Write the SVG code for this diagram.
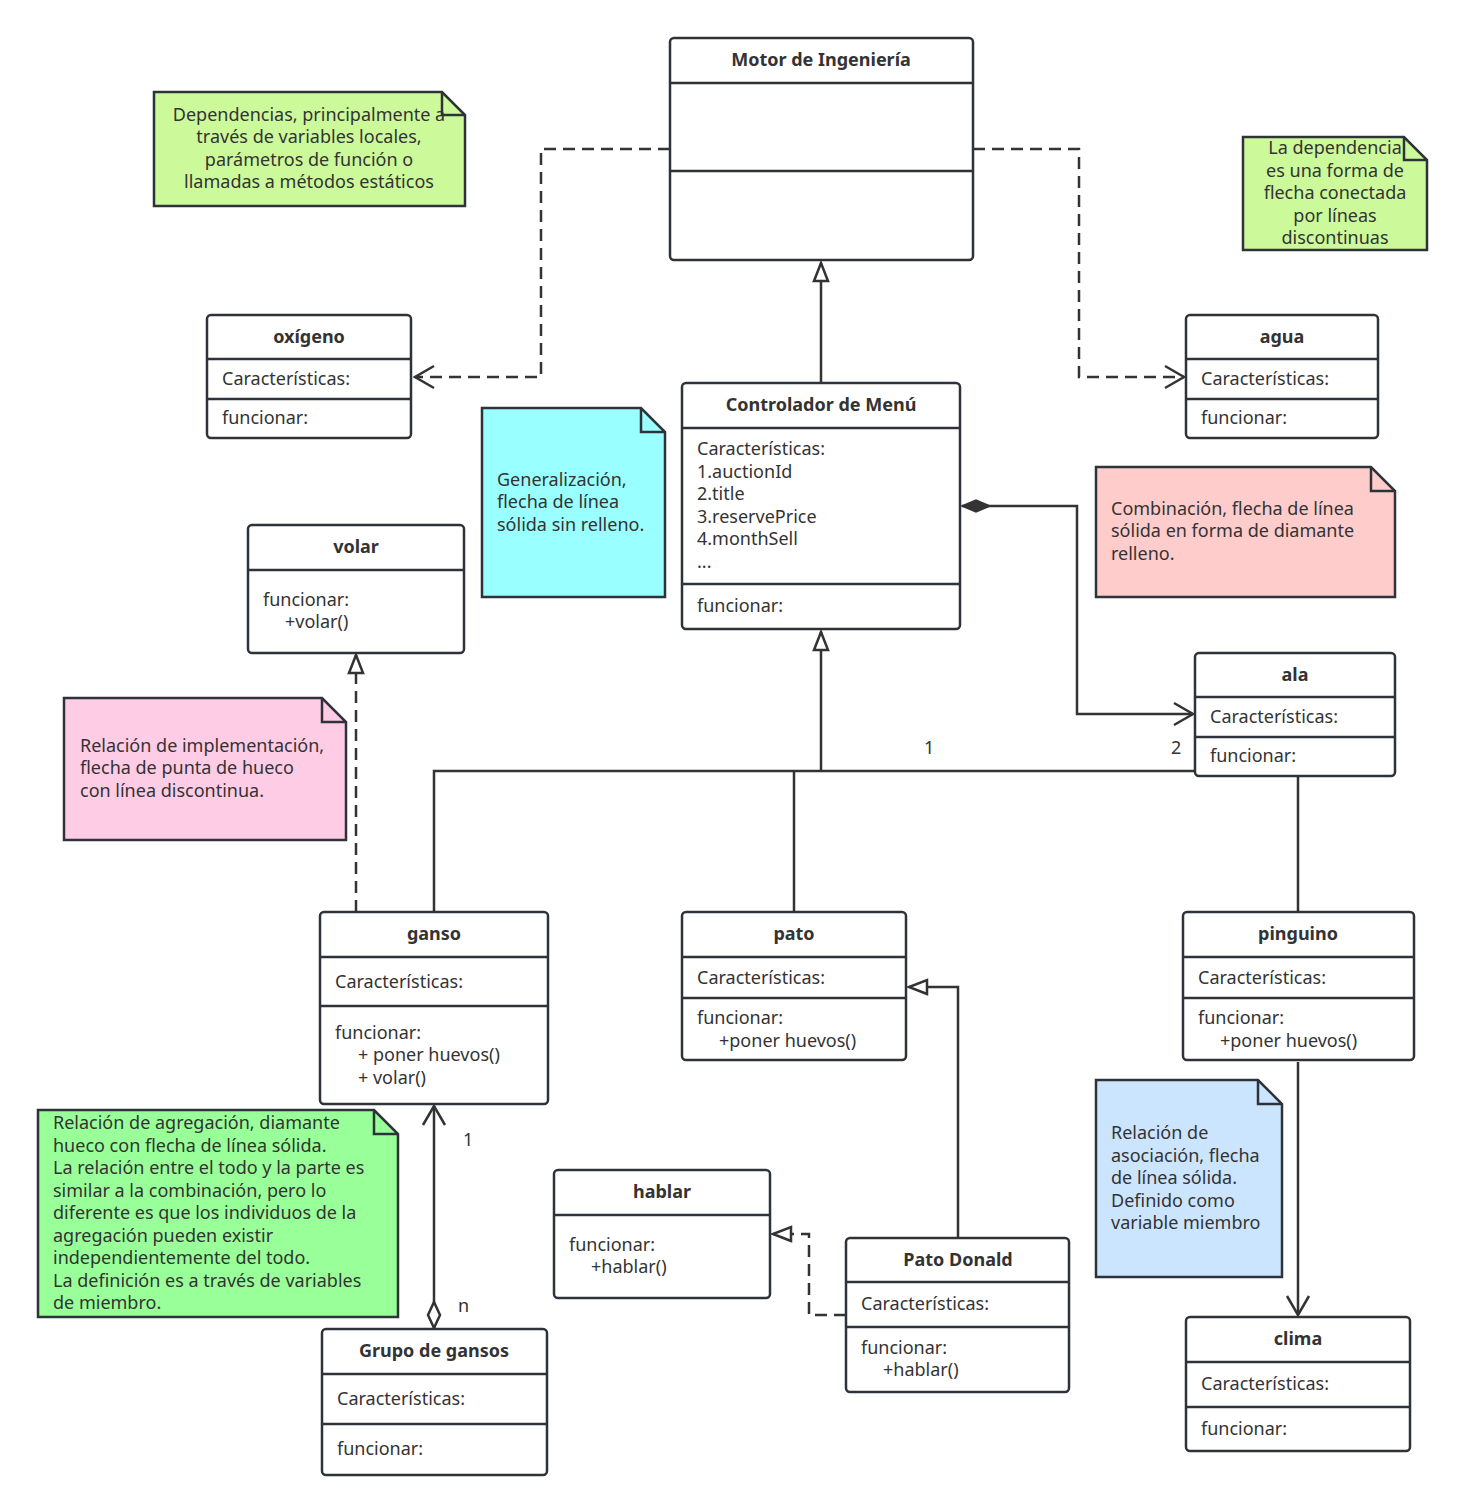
<svg xmlns="http://www.w3.org/2000/svg" width="1464" height="1512" viewBox="0 0 1464 1512">
<style>
.box{fill:#fff;stroke:#2d3339;stroke-width:2.5}
.sep{stroke:#2d3339;stroke-width:2.5}
.t{font-family:"Noto Sans","Open Sans",sans-serif;font-size:18px;fill:#333}
.b{font-family:"Noto Sans","Open Sans",sans-serif;font-size:18px;font-weight:bold;fill:#333;text-anchor:middle}
.c{text-anchor:middle}
.note{stroke:#2d3339;stroke-width:2.5}
.ln{fill:none;stroke:#333;stroke-width:2.5}
.dash{stroke-dasharray:12 7}
</style>
<defs>
<marker id="open" viewBox="-24 -14 28 28" refX="0" refY="0" markerWidth="28" markerHeight="28" orient="auto" markerUnits="userSpaceOnUse"><path d="M-19,-11 L0,0 L-19,11" fill="none" stroke="#333" stroke-width="2.5"/></marker>
<marker id="tri" viewBox="-22 -12 26 24" refX="0" refY="0" markerWidth="26" markerHeight="24" orient="auto" markerUnits="userSpaceOnUse"><path d="M-18,-7 L0,0 L-18,7 Z" fill="#fff" stroke="#333" stroke-width="2.5"/></marker>
<marker id="dfill" viewBox="-2 -10 34 20" refX="0" refY="0" markerWidth="34" markerHeight="20" orient="auto" markerUnits="userSpaceOnUse"><path d="M0,0 L14,-6 L28,0 L14,6 Z" fill="#333" stroke="#333" stroke-width="1.5"/></marker>
<marker id="dhol" viewBox="-2 -10 34 20" refX="0" refY="0" markerWidth="34" markerHeight="20" orient="auto" markerUnits="userSpaceOnUse"><path d="M0,0 L13,-6 L26,0 L13,6 Z" fill="#fff" stroke="#333" stroke-width="2.5"/></marker>
</defs>
<rect width="1464" height="1512" fill="#fff"/>

<g id="connectors">
<path class="ln dash" d="M670,149 H541 V377 H415" marker-end="url(#open)"/>
<path class="ln dash" d="M973,149 H1079 V377 H1184" marker-end="url(#open)"/>
<path class="ln" d="M821,383 V263" marker-end="url(#tri)"/>
<path class="ln" d="M962,506 H1077 V714 H1193" marker-start="url(#dfill)" marker-end="url(#open)"/>
<path class="ln" d="M821,771 V632" stroke-width="3.5" marker-end="url(#tri)"/>
<path class="ln" d="M434,912 V771 H1298 V912"/>
<path class="ln" d="M794,912 V771"/>
<path class="ln dash" d="M356,912 V655" marker-end="url(#tri)"/>
<path class="ln" d="M958,1238 V987 H909" marker-end="url(#tri)"/>
<path class="ln dash" d="M846,1315 H809 V1234 H773" marker-end="url(#tri)"/>
<path class="ln" d="M434,1328 V1106" marker-start="url(#dhol)" marker-end="url(#open)"/>
<path class="ln" d="M1298,1062 V1315" marker-end="url(#open)"/>
<text class="t" x="924" y="754">1</text>
<text class="t" x="1171" y="754">2</text>
<text class="t" x="463" y="1146">1</text>
<text class="t" x="458" y="1312">n</text>
</g>

<g id="motor">
<rect class="box" x="670" y="38" width="303" height="222" rx="4"/>
<line class="sep" x1="670" y1="83" x2="973" y2="83"/>
<line class="sep" x1="670" y1="171" x2="973" y2="171" stroke-width="3"/>
<text class="b" x="821" y="66">Motor de Ingeniería</text>
</g>

<g id="oxigeno">
<rect class="box" x="207" y="315" width="204" height="123" rx="4"/>
<line class="sep" x1="207" y1="359" x2="411" y2="359"/>
<line class="sep" x1="207" y1="399" x2="411" y2="399"/>
<text class="b" x="309" y="343">oxígeno</text>
<text class="t" x="222" y="385">Características:</text>
<text class="t" x="222" y="424">funcionar:</text>
</g>

<g id="agua">
<rect class="box" x="1186" y="315" width="192" height="123" rx="4"/>
<line class="sep" x1="1186" y1="359" x2="1378" y2="359"/>
<line class="sep" x1="1186" y1="399" x2="1378" y2="399"/>
<text class="b" x="1282" y="343">agua</text>
<text class="t" x="1201" y="385">Características:</text>
<text class="t" x="1201" y="424">funcionar:</text>
</g>

<g id="controlador">
<rect class="box" x="682" y="383" width="278" height="246" rx="4"/>
<line class="sep" x1="682" y1="428" x2="960" y2="428"/>
<line class="sep" x1="682" y1="584" x2="960" y2="584"/>
<text class="b" x="821" y="411">Controlador de Menú</text>
<text class="t" x="697" y="455">Características:</text>
<text class="t" x="697" y="478">1.auctionId</text>
<text class="t" x="697" y="500">2.title</text>
<text class="t" x="697" y="523">3.reservePrice</text>
<text class="t" x="697" y="545">4.monthSell</text>
<text class="t" x="697" y="568">...</text>
<text class="t" x="697" y="612">funcionar:</text>
</g>

<g id="volar">
<rect class="box" x="248" y="525" width="216" height="128" rx="4"/>
<line class="sep" x1="248" y1="570" x2="464" y2="570"/>
<text class="b" x="356" y="553">volar</text>
<text class="t" x="263" y="606">funcionar:</text>
<text class="t" x="285" y="628">+volar()</text>
</g>

<g id="ala">
<rect class="box" x="1195" y="653" width="200" height="123" rx="4"/>
<line class="sep" x1="1195" y1="697" x2="1395" y2="697"/>
<line class="sep" x1="1195" y1="737" x2="1395" y2="737"/>
<text class="b" x="1295" y="681">ala</text>
<text class="t" x="1210" y="723">Características:</text>
<text class="t" x="1210" y="762">funcionar:</text>
</g>

<g id="ganso">
<rect class="box" x="320" y="912" width="228" height="192" rx="4"/>
<line class="sep" x1="320" y1="957" x2="548" y2="957"/>
<line class="sep" x1="320" y1="1006" x2="548" y2="1006"/>
<text class="b" x="434" y="940">ganso</text>
<text class="t" x="335" y="988">Características:</text>
<text class="t" x="335" y="1039">funcionar:</text>
<text class="t" x="358" y="1061">+ poner huevos()</text>
<text class="t" x="358" y="1084">+ volar()</text>
</g>

<g id="pato">
<rect class="box" x="682" y="912" width="224" height="148" rx="4"/>
<line class="sep" x1="682" y1="957" x2="906" y2="957"/>
<line class="sep" x1="682" y1="998" x2="906" y2="998"/>
<text class="b" x="794" y="940">pato</text>
<text class="t" x="697" y="984">Características:</text>
<text class="t" x="697" y="1024">funcionar:</text>
<text class="t" x="719" y="1047">+poner huevos()</text>
</g>

<g id="pinguino">
<rect class="box" x="1183" y="912" width="231" height="148" rx="4"/>
<line class="sep" x1="1183" y1="957" x2="1414" y2="957"/>
<line class="sep" x1="1183" y1="998" x2="1414" y2="998"/>
<text class="b" x="1298" y="940">pinguino</text>
<text class="t" x="1198" y="984">Características:</text>
<text class="t" x="1198" y="1024">funcionar:</text>
<text class="t" x="1220" y="1047">+poner huevos()</text>
</g>

<g id="hablar">
<rect class="box" x="554" y="1170" width="216" height="128" rx="4"/>
<line class="sep" x1="554" y1="1215" x2="770" y2="1215"/>
<text class="b" x="662" y="1198">hablar</text>
<text class="t" x="569" y="1251">funcionar:</text>
<text class="t" x="591" y="1273">+hablar()</text>
</g>

<g id="pato-donald">
<rect class="box" x="846" y="1238" width="223" height="154" rx="4"/>
<line class="sep" x1="846" y1="1282" x2="1069" y2="1282"/>
<line class="sep" x1="846" y1="1327" x2="1069" y2="1327"/>
<text class="b" x="958" y="1266">Pato Donald</text>
<text class="t" x="861" y="1310">Características:</text>
<text class="t" x="861" y="1354">funcionar:</text>
<text class="t" x="883" y="1376">+hablar()</text>
</g>

<g id="clima">
<rect class="box" x="1186" y="1317" width="224" height="134" rx="4"/>
<line class="sep" x1="1186" y1="1362" x2="1410" y2="1362"/>
<line class="sep" x1="1186" y1="1407" x2="1410" y2="1407"/>
<text class="b" x="1298" y="1345">clima</text>
<text class="t" x="1201" y="1390">Características:</text>
<text class="t" x="1201" y="1435">funcionar:</text>
</g>

<g id="grupo-gansos">
<rect class="box" x="322" y="1329" width="225" height="146" rx="4"/>
<line class="sep" x1="322" y1="1374" x2="547" y2="1374"/>
<line class="sep" x1="322" y1="1424" x2="547" y2="1424"/>
<text class="b" x="434" y="1357">Grupo de gansos</text>
<text class="t" x="337" y="1405">Características:</text>
<text class="t" x="337" y="1455">funcionar:</text>
</g>

<g id="note-dependencias">
<path class="note" fill="#ccfa9a" d="M154,92 H442 L465,115 V206 H154 Z"/>
<path class="note" fill="none" d="M442,92 V115 H465"/>
<text class="t c" x="309" y="121">Dependencias, principalmente a</text>
<text class="t c" x="309" y="143">través de variables locales,</text>
<text class="t c" x="309" y="166">parámetros de función o</text>
<text class="t c" x="309" y="188">llamadas a métodos estáticos</text>
</g>

<g id="note-dependencia">
<path class="note" fill="#ccfa9a" d="M1243,137 H1404 L1427,160 V250 H1243 Z"/>
<path class="note" fill="none" d="M1404,137 V160 H1427"/>
<text class="t c" x="1335" y="154">La dependencia</text>
<text class="t c" x="1335" y="177">es una forma de</text>
<text class="t c" x="1335" y="199">flecha conectada</text>
<text class="t c" x="1335" y="222">por líneas</text>
<text class="t c" x="1335" y="244">discontinuas</text>
</g>

<g id="note-generalizacion">
<path class="note" fill="#99ffff" d="M482,408 H641 L665,432 V597 H482 Z"/>
<path class="note" fill="none" d="M641,408 V432 H665"/>
<text class="t" x="497" y="486">Generalización,</text>
<text class="t" x="497" y="508">flecha de línea</text>
<text class="t" x="497" y="531">sólida sin relleno.</text>
</g>

<g id="note-combinacion">
<path class="note" fill="#ffcccc" d="M1096,467 H1371 L1395,491 V597 H1096 Z"/>
<path class="note" fill="none" d="M1371,467 V491 H1395"/>
<text class="t" x="1111" y="515">Combinación, flecha de línea</text>
<text class="t" x="1111" y="537">sólida en forma de diamante</text>
<text class="t" x="1111" y="560">relleno.</text>
</g>

<g id="note-implementacion">
<path class="note" fill="#ffcce6" d="M64,698 H322 L346,722 V840 H64 Z"/>
<path class="note" fill="none" d="M322,698 V722 H346"/>
<text class="t" x="80" y="752">Relación de implementación,</text>
<text class="t" x="80" y="774">flecha de punta de hueco</text>
<text class="t" x="80" y="797">con línea discontinua.</text>
</g>

<g id="note-agregacion">
<path class="note" fill="#99ff99" d="M38,1110 H374 L398,1134 V1317 H38 Z"/>
<path class="note" fill="none" d="M374,1110 V1134 H398"/>
<text class="t" x="53" y="1129">Relación de agregación, diamante</text>
<text class="t" x="53" y="1152">hueco con flecha de línea sólida.</text>
<text class="t" x="53" y="1174">La relación entre el todo y la parte es</text>
<text class="t" x="53" y="1197">similar a la combinación, pero lo</text>
<text class="t" x="53" y="1219">diferente es que los individuos de la</text>
<text class="t" x="53" y="1242">agregación pueden existir</text>
<text class="t" x="53" y="1264">independientemente del todo.</text>
<text class="t" x="53" y="1287">La definición es a través de variables</text>
<text class="t" x="53" y="1309">de miembro.</text>
</g>

<g id="note-asociacion">
<path class="note" fill="#cce5ff" d="M1096,1080 H1258 L1282,1104 V1277 H1096 Z"/>
<path class="note" fill="none" d="M1258,1080 V1104 H1282"/>
<text class="t" x="1111" y="1139">Relación de</text>
<text class="t" x="1111" y="1162">asociación, flecha</text>
<text class="t" x="1111" y="1184">de línea sólida.</text>
<text class="t" x="1111" y="1207">Definido como</text>
<text class="t" x="1111" y="1229">variable miembro</text>
</g>
</svg>
